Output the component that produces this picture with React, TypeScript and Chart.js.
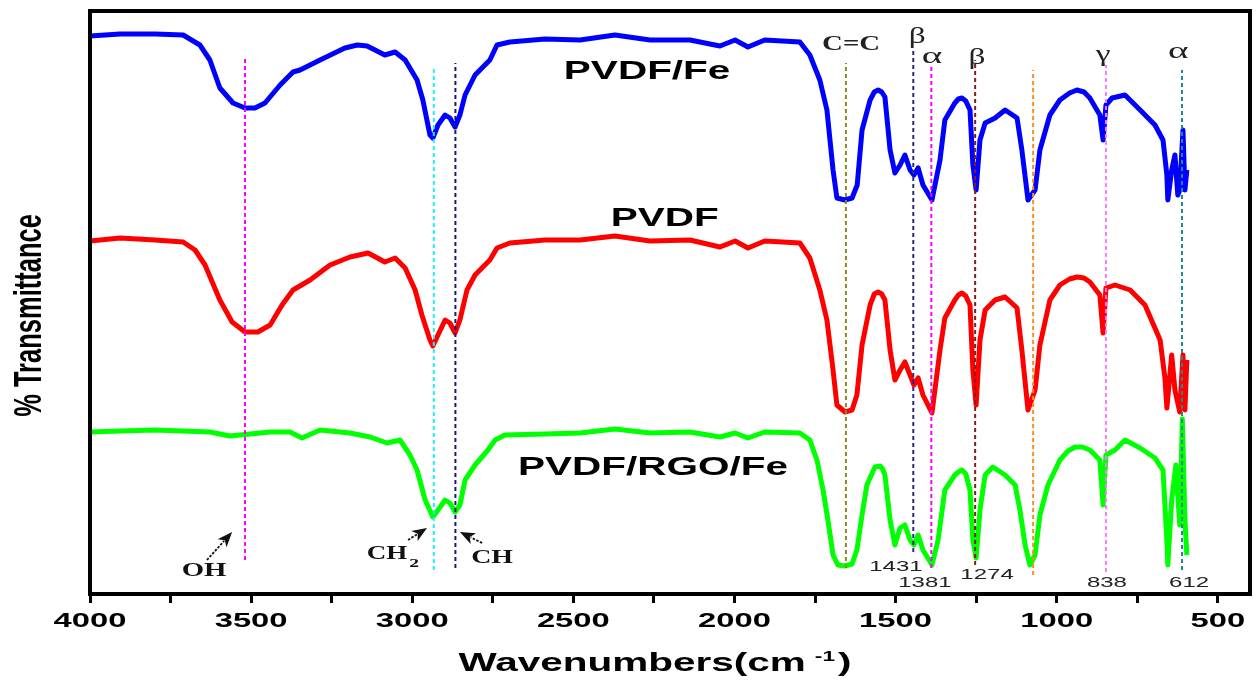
import { useEffect, useRef } from 'react';
import { Chart, registerables } from 'chart.js';

Chart.register(...registerables);

// ---------- DATA (wavenumber in cm-1, offset % transmittance, arbitrary units) ----------
const blueWn = [4000, 3907, 3798, 3711, 3659, 3628, 3597, 3556, 3519, 3488, 3457, 3410, 3370, 3348, 3286, 3209, 3170, 3140, 3085, 3053, 3022, 2985, 2967, 2945, 2936, 2920, 2898, 2883, 2867, 2852, 2836, 2805, 2759, 2737, 2697, 2588, 2479, 2371, 2262, 2138, 2045, 1998, 1958, 1906, 1797, 1766, 1735, 1713, 1694, 1682, 1657, 1635, 1619, 1604, 1579, 1566, 1554, 1543, 1533, 1517, 1502, 1486, 1471, 1455, 1443, 1430, 1415, 1387, 1362, 1347, 1316, 1305, 1294, 1282, 1269, 1260, 1250, 1238, 1222, 1191, 1160, 1123, 1108, 1089, 1067, 1052, 1021, 990, 960, 937, 915, 897, 866, 856, 847, 828, 788, 741, 695, 670, 658, 655, 643, 633, 624, 618, 608, 602, 596];
const blueT = [55.8, 56.0, 56.0, 55.9, 54.9, 53.4, 50.6, 49.1, 48.6, 48.6, 49.1, 50.9, 52.2, 52.4, 53.4, 54.6, 54.9, 54.8, 53.9, 54.2, 53.4, 51.4, 49.4, 45.9, 45.6, 46.9, 47.9, 47.6, 46.7, 47.9, 49.9, 51.9, 53.4, 54.9, 55.2, 55.5, 55.4, 55.9, 55.4, 55.4, 54.8, 55.4, 54.7, 55.4, 55.2, 53.9, 51.4, 48.4, 42.4, 39.6, 39.4, 39.6, 40.9, 46.4, 49.4, 50.2, 50.4, 50.2, 49.7, 44.4, 42.1, 42.9, 43.9, 42.4, 41.9, 42.6, 40.9, 39.4, 43.4, 47.4, 49.1, 49.5, 49.6, 49.3, 48.4, 42.9, 40.4, 45.4, 47.1, 47.6, 48.4, 47.6, 44.4, 39.4, 40.4, 44.4, 47.9, 49.4, 50.1, 50.4, 50.2, 49.6, 47.9, 45.4, 48.9, 49.6, 49.9, 48.4, 46.9, 45.4, 41.9, 39.4, 42.4, 43.9, 39.9, 40.4, 46.4, 40.4, 42.4];

const redWn = [4000, 3907, 3798, 3711, 3674, 3643, 3597, 3559, 3519, 3479, 3441, 3404, 3370, 3317, 3255, 3193, 3137, 3085, 3053, 3022, 2991, 2970, 2945, 2936, 2920, 2898, 2883, 2867, 2852, 2830, 2805, 2759, 2737, 2697, 2588, 2479, 2371, 2262, 2138, 2045, 1998, 1958, 1906, 1797, 1766, 1735, 1713, 1694, 1682, 1657, 1635, 1620, 1604, 1579, 1566, 1554, 1543, 1533, 1517, 1502, 1486, 1471, 1455, 1443, 1430, 1415, 1387, 1362, 1347, 1316, 1305, 1294, 1282, 1269, 1260, 1250, 1238, 1222, 1191, 1160, 1123, 1108, 1089, 1067, 1052, 1021, 990, 960, 937, 915, 897, 866, 856, 847, 819, 772, 726, 679, 664, 658, 643, 633, 618, 608, 602, 596];
const redT = [35.3, 35.6, 35.4, 35.2, 34.4, 32.9, 29.4, 27.2, 26.2, 26.2, 26.9, 28.9, 30.4, 31.4, 32.9, 33.7, 34.1, 33.2, 33.6, 32.6, 30.4, 27.9, 25.4, 24.8, 25.9, 27.4, 27.1, 26.1, 27.4, 30.4, 31.9, 33.4, 34.6, 35.1, 35.4, 35.4, 35.8, 35.3, 35.4, 34.7, 35.3, 34.6, 35.3, 35.1, 33.6, 30.4, 27.4, 22.4, 18.9, 18.2, 18.4, 19.9, 24.9, 28.9, 30.0, 30.2, 30.0, 29.4, 24.4, 21.4, 22.4, 23.2, 21.9, 20.9, 21.6, 19.9, 18.1, 24.4, 27.6, 29.4, 29.9, 30.1, 29.8, 28.9, 22.4, 18.9, 25.4, 28.4, 29.4, 29.7, 28.6, 24.4, 18.4, 20.4, 24.9, 29.4, 30.9, 31.5, 31.7, 31.6, 31.2, 29.9, 26.1, 30.6, 30.9, 30.4, 28.9, 25.4, 21.6, 18.6, 23.9, 20.4, 18.2, 23.9, 18.4, 23.4];

const greenWn = [4000, 3907, 3798, 3711, 3628, 3566, 3503, 3441, 3379, 3342, 3286, 3193, 3131, 3078, 3038, 3007, 2985, 2960, 2936, 2920, 2898, 2883, 2867, 2852, 2836, 2805, 2765, 2743, 2712, 2588, 2479, 2371, 2262, 2138, 2045, 1998, 1958, 1906, 1797, 1766, 1744, 1725, 1710, 1694, 1679, 1657, 1635, 1620, 1604, 1589, 1564, 1548, 1540, 1533, 1517, 1502, 1486, 1471, 1455, 1443, 1430, 1415, 1387, 1368, 1347, 1316, 1305, 1294, 1282, 1269, 1260, 1250, 1238, 1222, 1198, 1160, 1129, 1114, 1098, 1083, 1067, 1052, 1027, 990, 965, 943, 920, 897, 866, 856, 847, 819, 788, 741, 695, 670, 658, 655, 643, 630, 618, 610, 602, 596];
const greenT = [16.2, 16.3, 16.4, 16.3, 16.2, 15.8, 16.0, 16.2, 16.2, 15.6, 16.4, 16.1, 15.7, 15.1, 15.4, 13.9, 12.4, 9.4, 7.7, 8.4, 9.4, 9.1, 8.2, 8.9, 11.4, 12.9, 14.4, 15.4, 15.9, 16.0, 16.1, 16.5, 16.1, 16.2, 15.7, 16.1, 15.6, 16.2, 16.1, 15.4, 13.4, 10.4, 7.4, 3.9, 2.9, 2.8, 3.0, 4.4, 7.9, 10.9, 12.7, 12.8, 12.5, 11.9, 7.4, 4.9, 6.6, 6.9, 5.4, 4.9, 5.9, 4.4, 2.9, 5.4, 10.4, 11.9, 12.2, 12.4, 12.0, 10.4, 5.4, 3.6, 8.4, 11.9, 12.7, 11.9, 10.9, 8.4, 4.9, 2.9, 3.9, 7.9, 10.9, 13.4, 14.3, 14.7, 14.7, 14.4, 13.4, 8.9, 13.9, 14.4, 15.4, 14.6, 13.6, 12.4, 5.4, 2.9, 9.4, 12.9, 6.9, 17.5, 7.4, 3.9];

// band marker lines (wavenumber, top, bottom)
const markerWn = [3519, 2933, 2866, 1654, 1445, 1389, 1253, 1073, 847, 611];
const markerTop = [53.7, 52.7, 53.1, 53.1, 54.6, 52.9, 53.4, 52.4, 52.9, 52.4];
const markerBottom = [3.4, 2.4, 2.6, 2.6, 4.2, 2.6, 2.9, 1.9, 2.2, 2.4];

const xTickLabels = [4000, 3500, 3000, 2500, 2000, 1500, 1000, 500];

const seriesNames = ['PVDF/Fe', 'PVDF', 'PVDF/RGO/Fe'];

// ---------- STYLES ----------
const markerColors = ['#ff00ff', '#22eeff', '#1a1a78', '#8c8c1e', '#2a2a8c', '#ff00ff', '#8c1a1a', '#ff8c1a', '#ff77ff', '#1a8c8c'];
const seriesColors = ['#0000ff', '#ff0000', '#00ff00'];

const SANS = '"Liberation Sans", Arial, sans-serif';
const SERIF = '"Liberation Serif", "Times New Roman", serif';

function stretchText(
  ctx: CanvasRenderingContext2D,
  text: string,
  x: number,
  y: number,
  font: string,
  sx: number,
  color = '#000',
  align: CanvasTextAlign = 'center',
  baseline: CanvasTextBaseline = 'middle'
) {
  ctx.save();
  ctx.font = font;
  ctx.fillStyle = color;
  ctx.textAlign = align;
  ctx.textBaseline = baseline;
  ctx.translate(x, y);
  ctx.scale(sx, 1);
  ctx.fillText(text, 0, 0);
  ctx.restore();
}

function arrow(ctx: CanvasRenderingContext2D, x1: number, y1: number, x2: number, y2: number) {
  const ang = Math.atan2(y2 - y1, x2 - x1);
  const headLen = 15;
  const bx = x2 - headLen * Math.cos(ang);
  const by = y2 - headLen * Math.sin(ang);
  ctx.save();
  ctx.strokeStyle = '#111';
  ctx.lineWidth = 1.8;
  ctx.setLineDash([2.5, 1.5]);
  ctx.beginPath();
  ctx.moveTo(x1, y1);
  ctx.lineTo(bx + 3 * Math.cos(ang), by + 3 * Math.sin(ang));
  ctx.stroke();
  ctx.setLineDash([]);
  ctx.fillStyle = '#111';
  const w = 6;
  const nx = -Math.sin(ang);
  const ny = Math.cos(ang);
  const nb = 4;
  ctx.beginPath();
  ctx.moveTo(x2, y2);
  ctx.lineTo(bx + nx * w, by + ny * w);
  ctx.lineTo(x2 - (headLen - nb) * Math.cos(ang), y2 - (headLen - nb) * Math.sin(ang));
  ctx.lineTo(bx - nx * w, by - ny * w);
  ctx.closePath();
  ctx.fill();
  ctx.restore();
}

const textPlugin = {
  id: 'ftirText',
  afterDraw(chart: any) {
    const ctx: CanvasRenderingContext2D = chart.ctx;
    const { left, right, top, bottom } = chart.chartArea;
    const xs = chart.scales.x;
    const ys = chart.scales.y;
    const px = (v: number) => xs.getPixelForValue(v);
    const py = (v: number) => ys.getPixelForValue(v);

    // frame
    ctx.save();
    ctx.strokeStyle = '#000';
    ctx.lineWidth = 4;
    ctx.strokeRect(left, top, right - left, bottom - top);
    ctx.restore();

    // x tick labels
    xTickLabels.forEach((v) => {
      stretchText(ctx, String(v), px(v), bottom + 28, `bold 19.5px ${SANS}`, 1.68);
    });

    // x axis title with superscript
    {
      const sx = 1.62;
      const f1 = `bold 25px ${SANS}`;
      const f2 = `bold 14px ${SANS}`;
      ctx.save();
      ctx.font = f1;
      const w1 = ctx.measureText('Wavenumbers(cm').width * sx;
      const w3 = ctx.measureText(')').width * sx;
      ctx.font = f2;
      const w2 = ctx.measureText('-1').width * sx;
      ctx.restore();
      const gap1 = 9;
      const gap2 = 3;
      const total = w1 + gap1 + w2 + gap2 + w3;
      const cx = (left + right) / 2 - 15;
      const base = bottom + 77;
      let x0 = cx - total / 2;
      stretchText(ctx, 'Wavenumbers(cm', x0, base, f1, sx, '#000', 'left', 'alphabetic');
      x0 += w1 + gap1;
      stretchText(ctx, '-1', x0, base - 10, f2, sx, '#000', 'left', 'alphabetic');
      x0 += w2 + gap2;
      stretchText(ctx, ')', x0, base, f1, sx, '#000', 'left', 'alphabetic');
    }

    // y axis title (rotated)
    ctx.save();
    ctx.translate(30, (top + bottom) / 2 + 13);
    ctx.rotate(-Math.PI / 2);
    ctx.scale(1, 1.55);
    ctx.font = `bold 25.5px ${SANS}`;
    ctx.fillStyle = '#000';
    ctx.textAlign = 'center';
    ctx.textBaseline = 'middle';
    ctx.fillText('% Transmittance', 0, 0);
    ctx.restore();

    // series labels
    stretchText(ctx, seriesNames[0], px(2271), py(52.2), `bold 25px ${SANS}`, 1.62);
    stretchText(ctx, seriesNames[1], px(2216), py(37.5), `bold 25px ${SANS}`, 1.62);
    stretchText(ctx, seriesNames[2], px(2253), py(12.6), `bold 25px ${SANS}`, 1.62);

    // band assignments (top)
    stretchText(ctx, 'C=C', px(1638), py(54.9), `bold 20px ${SERIF}`, 1.44, '#222');
    stretchText(ctx, 'β', px(1433), py(55.7), `23px ${SERIF}`, 1.45, '#222');
    stretchText(ctx, 'α', px(1387), py(53.7), `23px ${SERIF}`, 1.7, '#222');
    stretchText(ctx, 'β', px(1247), py(53.6), `23px ${SERIF}`, 1.45, '#222');
    stretchText(ctx, 'γ', px(856), py(53.9), `23px ${SERIF}`, 1.45, '#222');
    stretchText(ctx, 'α', px(623), py(54.2), `23px ${SERIF}`, 1.7, '#222');

    // functional groups (bottom)
    stretchText(ctx, 'OH', px(3646), py(2.3), `bold 18px ${SERIF}`, 1.6, '#111');
    stretchText(ctx, 'CH', px(3078), py(4.0), `bold 18px ${SERIF}`, 1.5, '#111');
    stretchText(ctx, '2', px(3078) + 27, py(4.0) + 10, `bold 13px ${SERIF}`, 1.5, '#111');
    stretchText(ctx, 'CH', px(2752), py(3.6), `bold 18px ${SERIF}`, 1.55, '#111');
    arrow(ctx, px(3637), py(3.4), px(3559), py(6.2));
    arrow(ctx, px(3013), py(5.4), px(2954), py(6.6));
    arrow(ctx, px(2783), py(5.1), px(2852), py(6.2));

    // peak numbers
    const nf = `15px ${SANS}`;
    stretchText(ctx, '1431', px(1499), py(2.7), nf, 1.6, '#222');
    stretchText(ctx, '1381', px(1409), py(1.1), nf, 1.6, '#222');
    stretchText(ctx, '1274', px(1216), py(1.9), nf, 1.6, '#222');
    stretchText(ctx, '838', px(844), py(1.1), nf, 1.6, '#222');
    stretchText(ctx, '612', px(589), py(1.1), nf, 1.6, '#222');
  },
};

const toXY = (xs: number[], ys: number[]) => xs.map((x, i) => ({ x, y: ys[i] }));

export default function App() {
  const ref = useRef<HTMLCanvasElement>(null);

  useEffect(() => {
    const markerSets = markerWn.map((w, i) => ({
      label: `m${i}`,
      data: [
        { x: w, y: markerBottom[i] },
        { x: w, y: markerTop[i] },
      ],
      borderColor: markerColors[i],
      borderWidth: 2,
      borderDash: [4, 3],
      pointRadius: 0,
      fill: false,
    }));
    const seriesSets = [
      toXY(blueWn, blueT),
      toXY(redWn, redT),
      toXY(greenWn, greenT),
    ].map((data, i) => ({
      label: seriesNames[i],
      data,
      borderColor: seriesColors[i],
      borderWidth: 5,
      pointRadius: 0,
      tension: 0,
      fill: false,
      borderJoinStyle: 'round' as const,
    }));

    const chart = new Chart(ref.current!, {
      type: 'line',
      data: { datasets: [...markerSets, ...seriesSets] as any },
      options: {
        responsive: false,
        animation: false,
        devicePixelRatio: 1,
        layout: { padding: { left: 90, right: 7, top: 11, bottom: 78 } },
        plugins: { legend: { display: false }, tooltip: { enabled: false } },
        scales: {
          x: {
            type: 'linear',
            min: 400,
            max: 4000,
            reverse: true,
            ticks: { display: false, stepSize: 250, includeBounds: false },
            grid: {
              drawOnChartArea: false,
              drawTicks: true,
              tickLength: 9,
              tickWidth: 3,
              tickColor: '#000',
            },
            border: { display: false },
          },
          y: { display: false, min: 0, max: 58.3 },
        },
      },
      plugins: [textPlugin],
    });
    return () => chart.destroy();
  }, []);

  return (
    <div style={{ position: 'fixed', left: 0, top: 0, width: 1257, height: 681, background: '#fff' }}>
      <canvas ref={ref} width={1257} height={681} style={{ display: 'block' }} />
    </div>
  );
}
